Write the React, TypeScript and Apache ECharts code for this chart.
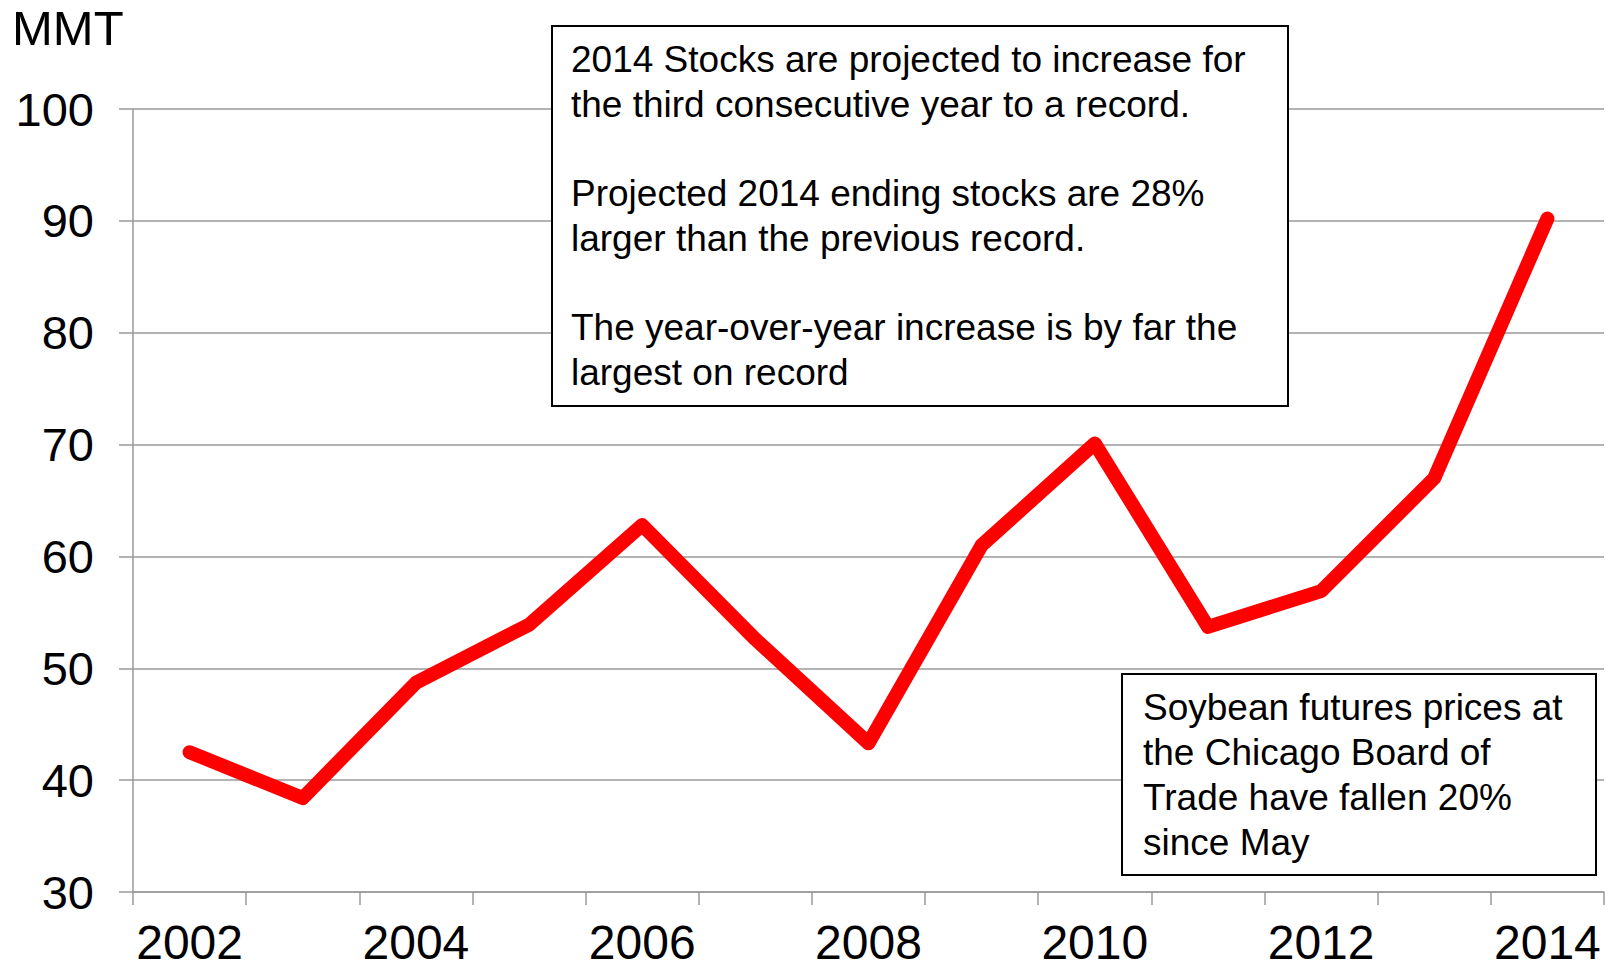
import React, { useEffect, useRef } from "react";
import * as echarts from "echarts";

const years = ["2002", "2003", "2004", "2005", "2006", "2007", "2008", "2009", "2010", "2011", "2012", "2013", "2014"];
const stocks = [42.5, 38.4, 48.7, 53.9, 62.8, 52.6, 43.3, 61.0, 70.1, 53.7, 56.9, 67.0, 90.2];
const unitLabel = "MMT";
const note1Lines = [
  "2014 Stocks are projected to increase for",
  "the third consecutive year to a record.",
  "",
  "Projected 2014 ending stocks are 28%",
  "larger than the previous record.",
  "",
  "The year-over-year increase is by far the",
  "largest on record",
];
const note2Lines = [
  "Soybean futures prices at",
  "the Chicago Board of",
  "Trade have fallen 20%",
  "since May",
];

const FONT = "'Liberation Sans', Arial, Helvetica, sans-serif";

export default function App() {
  const ref = useRef<HTMLDivElement>(null);
  useEffect(() => {
    if (!ref.current) return;
    const chart = echarts.init(ref.current, null, { renderer: "svg" });
    chart.setOption({
      animation: false,
      backgroundColor: "#ffffff",
      grid: { left: 133, right: 4, top: 109, bottom: 77, containLabel: false },
      xAxis: {
        type: "category",
        data: years,
        boundaryGap: true,
        axisLine: { show: true, lineStyle: { color: "#9a9a9a", width: 1.5 } },
        axisTick: { show: true, length: 13, interval: 0, alignWithLabel: false, lineStyle: { color: "#9a9a9a", width: 1.5 } },
        axisLabel: { interval: 1, margin: 26, color: "#000", fontSize: 48, fontFamily: FONT },
        splitLine: { show: false },
      },
      yAxis: {
        type: "value",
        min: 30,
        max: 100,
        interval: 10,
        axisLine: { show: true, lineStyle: { color: "#9a9a9a", width: 1.5 } },
        axisTick: { show: true, inside: false, length: 14, lineStyle: { color: "#9a9a9a", width: 1.5 } },
        axisLabel: { margin: 39, color: "#000", fontSize: 47, fontFamily: FONT },
        splitLine: { show: true, lineStyle: { color: "#9a9a9a", width: 1.5 } },
      },
      series: [
        {
          type: "line",
          data: stocks,
          showSymbol: false,
          symbol: "none",
          lineStyle: { color: "#ff0000", width: 14, cap: "round", join: "round" },
          z: 3,
        },
      ],
      graphic: [
        {
          type: "text",
          left: 12,
          top: 3,
          z: 100,
          style: { text: unitLabel, fill: "#000", font: `49px ${FONT}` },
        },
        {
          type: "rect",
          z: 100,
          shape: { x: 552, y: 26, width: 736, height: 380 },
          style: { fill: "#ffffff", stroke: "#000", lineWidth: 2 },
        },
        {
          type: "text",
          z: 101,
          x: 571,
          y: 37,
          style: {
            text: note1Lines.join("\n"),
            fill: "#000",
            font: `37px ${FONT}`,
            lineHeight: 44.7,
            verticalAlign: "top",
          },
        },
        {
          type: "rect",
          z: 100,
          shape: { x: 1122, y: 674, width: 474, height: 201 },
          style: { fill: "#ffffff", stroke: "#000", lineWidth: 2 },
        },
        {
          type: "text",
          z: 101,
          x: 1143,
          y: 685,
          style: {
            text: note2Lines.join("\n"),
            fill: "#000",
            font: `37px ${FONT}`,
            lineHeight: 45,
            verticalAlign: "top",
          },
        },
      ],
    });
    return () => chart.dispose();
  }, []);
  return (
    <div
      ref={ref}
      style={{ position: "fixed", left: 0, top: 0, width: 1608, height: 969, background: "#fff" }}
    />
  );
}
